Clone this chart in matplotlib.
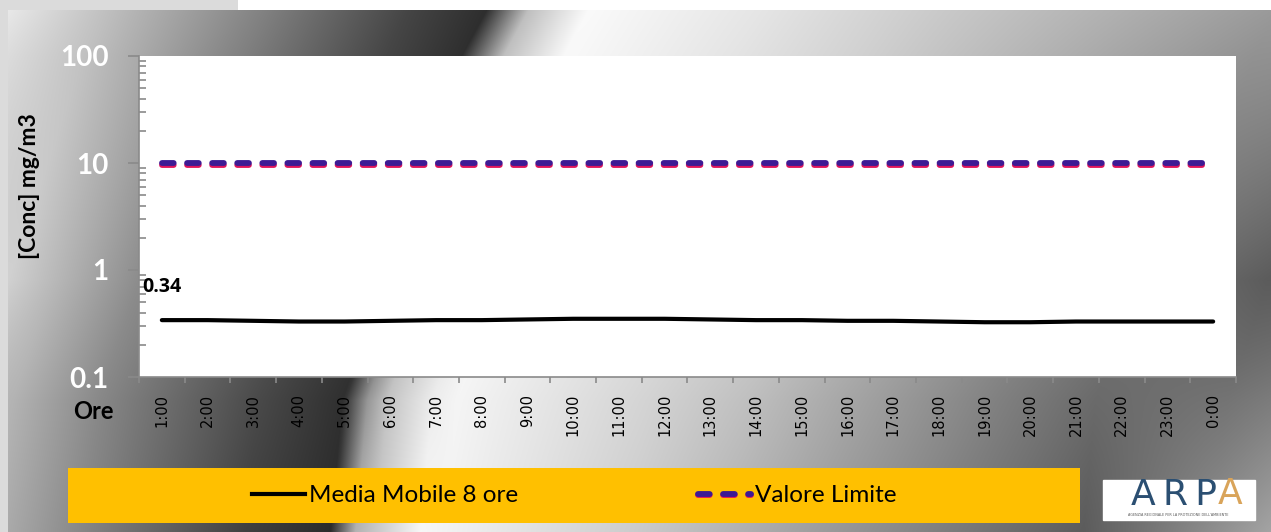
import numpy as np
import matplotlib
matplotlib.use("Agg")
import matplotlib.pyplot as plt
import matplotlib.patheffects as pe
from matplotlib.lines import Line2D
from matplotlib.patches import Rectangle

# data
ore = ["1:00", "2:00", "3:00", "4:00", "5:00", "6:00", "7:00", "8:00", "9:00", "10:00",
       "11:00", "12:00", "13:00", "14:00", "15:00", "16:00", "17:00", "18:00", "19:00",
       "20:00", "21:00", "22:00", "23:00", "0:00"]
media_mobile = [0.34, 0.34, 0.335, 0.33, 0.33, 0.335, 0.34, 0.34, 0.345, 0.35, 0.35, 0.35,
                0.345, 0.34, 0.34, 0.335, 0.335, 0.33, 0.325, 0.325, 0.33, 0.33, 0.33, 0.33]
valore_limite = [10] * 24
y_ticks = [0.1, 1, 10, 100]
y_tick_labels = ["0.1", "1", "10", "100"]

W, H = 1271, 532
fig = plt.figure(figsize=(W / 100, H / 100), dpi=100)

# metallic background
xx = np.arange(W)
img = np.zeros((H, W))
prof_top = ([-480, -350, -220, -80, -2, 40, 100, 270, 470, 790],
            [0.91, 0.70, 0.50, 0.27, 0.18, 0.75, 0.98, 0.90, 0.78, 0.60])
prof_mid = ([-380, -288, -249, -2, 40, 110, 400, 650, 880],
            [0.82, 0.63, 0.55, 0.20, 0.75, 0.97, 0.80, 0.55, 0.36])
prof_bot = ([-335, -210, -90, -5, 20, 85, 298, 498, 748, 940],
            [0.68, 0.45, 0.25, 0.17, 0.70, 0.97, 0.80, 0.60, 0.36, 0.65])
for y in range(H):
    edge = np.interp(y, [10, 56, 400, 532], [488, 463, 347, 335])
    d = xx - edge
    t = np.interp(d, *prof_top)
    m = np.interp(d, *prof_mid)
    b = np.interp(d, *prof_bot)
    if y < 280:
        f = (y - 10) / 270
        img[y] = t * (1 - f) + m * f
    else:
        f = (y - 280) / 252
        img[y] = m * (1 - f) + b * f
img[:, :8] = 0.86
img[:10, :238] = 0.86
img[:10, 238:] = 1.0
bg = fig.add_axes([0, 0, 1, 1])
bg.imshow(np.dstack([img, img, img]).clip(0, 1), aspect="auto", extent=(0, W, H, 0))
bg.set_xlim(0, W)
bg.set_ylim(H, 0)
bg.axis("off")

# logo
bg.add_patch(Rectangle((1103, 480), 152, 40, color="white"))
bg.text(1217, 495, "A\u2009R\u2009P", color="#2b4f72", fontsize=26, family="DejaVu Sans",
        ha="right", va="center")
bg.text(1218, 494, "A", color="#d9a45a", fontsize=26, family="DejaVu Sans",
        ha="left", va="center")
bg.text(1178, 515, "AGENZIA REGIONALE PER LA PROTEZIONE DELL'AMBIENTE", color="#555555",
        fontsize=2.4, ha="center", va="center")

# main chart
ax = fig.add_axes([139 / W, (H - 377) / H, 1097 / W, 321 / H])
ax.set_facecolor("white")
x = np.arange(len(ore))
ax.plot(x, media_mobile, color="black", lw=3, solid_capstyle="round")
ax.plot(x, valore_limite, color="#3d1a94", lw=4.2, dashes=(2.0, 2.3), dash_capstyle="round",
        path_effects=[pe.Stroke(linewidth=4.2, foreground="#e0145a", offset=(0, -1.3)),
                      pe.Normal()])
ax.annotate(f"{media_mobile[0]:.2f}", (x[0], media_mobile[0]), xytext=(0, 24),
            textcoords="offset points", ha="center", va="center",
            fontsize=14, fontweight="bold", family="Open Sans")

ax.set_yscale("log")
ax.set_ylim(0.1, 100)
ax.set_xlim(-0.5, len(ore) - 0.5)
ax.set_yticks(y_ticks)
ax.set_yticklabels(y_tick_labels)
ax.tick_params(axis="y", which="major", direction="out", length=8, width=1.2,
               color="#8a8a8a", pad=14, labelcolor="white", labelsize=20)
ax.tick_params(axis="y", which="minor", direction="in", length=5, width=1.2, color="#8a8a8a")
for lab in ax.get_yticklabels():
    lab.set_fontweight("bold")
    lab.set_family("Lato")

ax.set_xticks(np.arange(-0.5, len(ore), 1))
ax.set_xticklabels([])
ax.set_xticks(x, minor=True)
ax.set_xticklabels(ore, minor=True, rotation=90, fontsize=10.5, va="top", family="DejaVu Sans")
ax.tick_params(axis="x", which="major", direction="out", length=4, width=1.2, color="#8a8a8a")
ax.tick_params(axis="x", which="minor", length=0, pad=12)

for s in ["top", "right"]:
    ax.spines[s].set_visible(False)
for s in ["left", "bottom"]:
    ax.spines[s].set_color("#8a8a8a")
    ax.spines[s].set_linewidth(1.2)

ax.set_ylabel("[Conc] mg/m3", fontsize=16.5, fontweight="bold", family="Lato")
ax.yaxis.set_label_coords(-0.090, 0.595)
ax.text(-0.042, -0.109, "Ore", transform=ax.transAxes, ha="center", va="center",
        fontsize=17, fontweight="bold", family="Lato")

# legend box
lax = fig.add_axes([68 / W, (H - 523) / H, 1012 / W, 55 / H])
lax.set_facecolor("#ffc000")
lax.set_xticks([])
lax.set_yticks([])
for s in lax.spines.values():
    s.set_visible(False)
h1 = Line2D([], [], color="black", lw=3)
h2 = Line2D([], [], color="#3d1a94", lw=4.2, dashes=(2.0, 2.3), dash_capstyle="round",
            path_effects=[pe.Stroke(linewidth=4.2, foreground="#e0145a", offset=(0, -1.3)),
                          pe.Normal()])
lax.legend([h1, h2], ["Media Mobile 8 ore", "Valore Limite"], loc="center", ncol=2,
           frameon=False, prop={"family": "Lato", "size": 17.5}, handlelength=2.18,
           handletextpad=0.16, columnspacing=7.4)

fig.savefig("out.png", dpi=100)
